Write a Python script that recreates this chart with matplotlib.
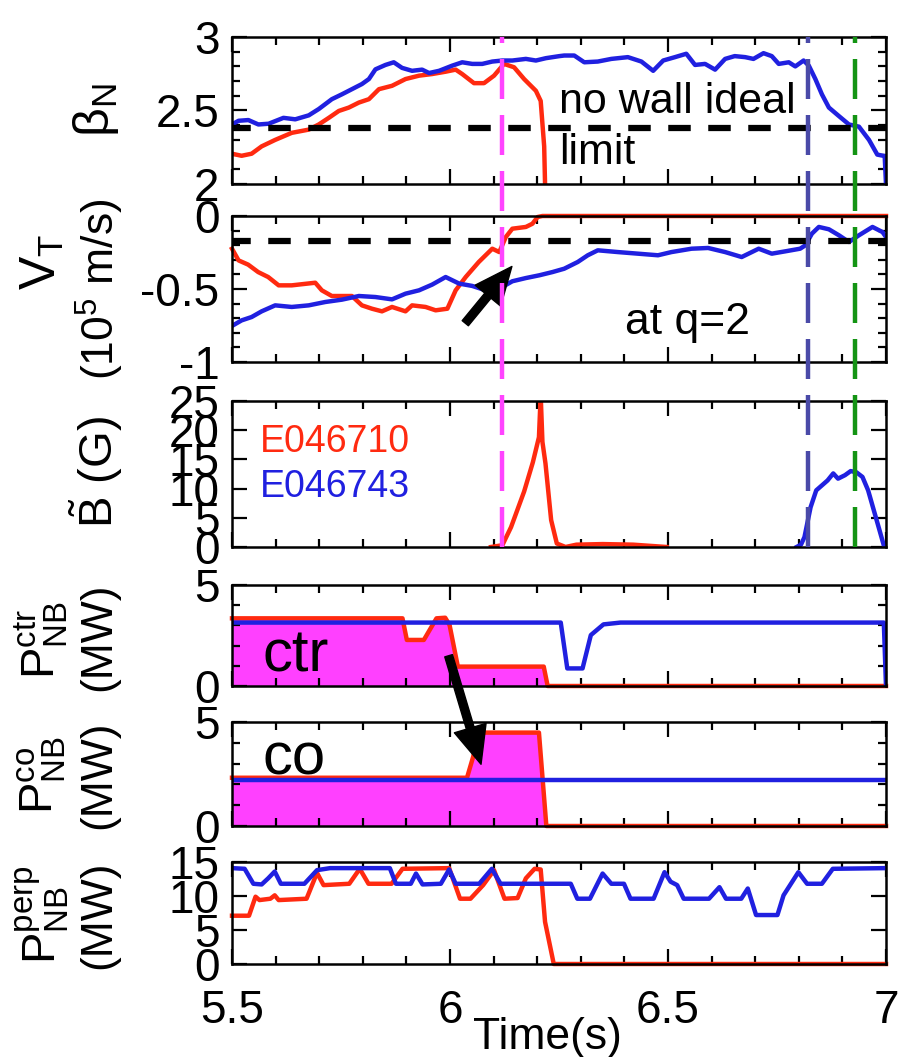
import matplotlib
matplotlib.use("Agg")
from matplotlib import pyplot as plt
from matplotlib.ticker import MultipleLocator, FixedLocator
from matplotlib.transforms import blended_transform_factory
from matplotlib.lines import Line2D

plt.rcParams["font.family"] = ["Liberation Sans", "DejaVu Sans"]
plt.rcParams["mathtext.fontset"] = "custom"
plt.rcParams["mathtext.rm"] = "Liberation Sans"
plt.rcParams["mathtext.it"] = "Liberation Sans"
plt.rcParams["mathtext.default"] = "regular"

RED = "#ff2a10"
BLUE = "#2020e0"
FILL = "#ff40ff"

# ---- beta_N ----
BETA_RED_T = [5.5, 5.522, 5.545, 5.568, 5.599, 5.637, 5.676, 5.699, 5.722, 5.745, 5.768, 5.791, 5.814,
              5.837, 5.867, 5.898, 5.929, 5.959, 5.990, 6.013, 6.028, 6.055, 6.078, 6.101, 6.124, 6.147,
              6.170, 6.197, 6.208, 6.216, 6.218]
BETA_RED_V = [2.206, 2.192, 2.206, 2.256, 2.30, 2.348, 2.37, 2.405, 2.45, 2.497, 2.52, 2.554, 2.577,
              2.645, 2.668, 2.714, 2.737, 2.748, 2.764, 2.778, 2.748, 2.686, 2.686, 2.737, 2.817, 2.794,
              2.714, 2.634, 2.565, 2.256, 2.0]
BETA_BLUE_T = [5.5, 5.515, 5.5375, 5.5605, 5.584, 5.618, 5.645, 5.676, 5.699, 5.729, 5.752, 5.775, 5.798,
               5.814, 5.829, 5.852, 5.871, 5.890, 5.913, 5.936, 5.952, 5.975, 6.005, 6.028, 6.051, 6.074,
               6.097, 6.120, 6.143, 6.174, 6.197, 6.220, 6.251, 6.262, 6.285, 6.308, 6.339, 6.370, 6.408,
               6.439, 6.466, 6.489, 6.516, 6.542, 6.562, 6.585, 6.608, 6.631, 6.653, 6.677, 6.696, 6.719,
               6.738, 6.754, 6.777, 6.792, 6.811, 6.823, 6.838, 6.853, 6.869, 6.892, 6.915, 6.938, 6.961,
               6.980, 6.997, 7.0]
BETA_BLUE_V = [2.405, 2.43, 2.435, 2.405, 2.41, 2.45, 2.44, 2.467, 2.51, 2.577, 2.61, 2.645, 2.68,
               2.714, 2.78, 2.81, 2.828, 2.79, 2.77, 2.778, 2.755, 2.77, 2.805, 2.828, 2.817, 2.817,
               2.833, 2.84, 2.84, 2.851, 2.84, 2.856, 2.87, 2.874, 2.874, 2.828, 2.833, 2.851, 2.863,
               2.833, 2.77, 2.84, 2.863, 2.886, 2.81, 2.817, 2.778, 2.851, 2.87, 2.863, 2.851, 2.89,
               2.87, 2.817, 2.828, 2.80, 2.84, 2.805, 2.714, 2.61, 2.52, 2.462, 2.405, 2.39, 2.30,
               2.20, 2.19, 2.0]
BETA_LIMIT = 2.38

# ---- toroidal rotation at q=2 ----
VT_RED_T = [5.5, 5.515, 5.537, 5.560, 5.583, 5.607, 5.637, 5.691, 5.706, 5.729, 5.775, 5.798, 5.821,
            5.844, 5.867, 5.898, 5.913, 5.944, 5.967, 5.994, 6.013, 6.036, 6.066, 6.097, 6.113, 6.128,
            6.143, 6.174, 6.189, 6.201, 6.212, 7.0]
VT_RED_V = [-0.224, -0.304, -0.333, -0.384, -0.418, -0.475, -0.475, -0.457, -0.509, -0.548, -0.548,
            -0.612, -0.635, -0.653, -0.623, -0.653, -0.612, -0.623, -0.646, -0.635, -0.509, -0.418,
            -0.315, -0.224, -0.247, -0.144, -0.087, -0.075, -0.053, -0.007, 0.0, 0.0]
VT_BLUE_T = [5.5, 5.522, 5.545, 5.568, 5.599, 5.637, 5.676, 5.714, 5.752, 5.791, 5.829, 5.867, 5.898,
             5.929, 5.959, 5.990, 6.021, 6.051, 6.082, 6.113, 6.143, 6.174, 6.205, 6.235, 6.262, 6.293,
             6.316, 6.339, 6.385, 6.431, 6.477, 6.508, 6.554, 6.592, 6.631, 6.669, 6.708, 6.738, 6.769,
             6.803, 6.815, 6.830, 6.846, 6.869, 6.892, 6.915, 6.938, 6.969, 6.992, 7.0]
VT_BLUE_V = [-0.753, -0.715, -0.692, -0.653, -0.612, -0.623, -0.612, -0.589, -0.573, -0.548, -0.555,
             -0.571, -0.532, -0.509, -0.47, -0.418, -0.463, -0.479, -0.509, -0.498, -0.447, -0.425,
             -0.406, -0.384, -0.361, -0.315, -0.269, -0.235, -0.247, -0.258, -0.269, -0.247, -0.224,
             -0.219, -0.247, -0.281, -0.224, -0.258, -0.242, -0.224, -0.201, -0.121, -0.075, -0.091,
             -0.132, -0.178, -0.132, -0.075, -0.11, -0.144]
VT_REF = -0.17

# ---- mode amplitude ----
B_RED_T = [6.094, 6.12, 6.14, 6.17, 6.19, 6.204, 6.208, 6.212, 6.219, 6.232, 6.245, 6.265, 6.29, 6.35,
           6.42, 6.497]
B_RED_V = [0.0, 0.3, 3.4, 9.5, 14.5, 18.8, 26.0, 18.0, 14.3, 4.6, 0.6, 0.0, 0.4, 0.5, 0.4, 0.0]
B_BLUE_T = [6.795, 6.805, 6.813, 6.827, 6.84, 6.866, 6.879, 6.89, 6.906, 6.919, 6.932, 6.946, 6.959,
            6.972, 6.985, 6.996]
B_BLUE_V = [0.0, 0.4, 1.7, 6.8, 9.7, 11.4, 12.6, 11.7, 12.3, 13.0, 12.8, 12.0, 9.7, 6.3, 2.9, 0.0]

# ---- counter NBI ----
CTR_RED_T = [5.5, 5.891, 5.901, 5.94, 5.969, 5.989, 5.999, 6.018, 6.215, 6.224, 7.0]
CTR_RED_V = [3.35, 3.35, 2.28, 2.28, 3.35, 3.38, 3.02, 0.96, 0.96, 0.0, 0.0]
CTR_BLUE_T = [5.5, 6.254, 6.269, 6.304, 6.323, 6.352, 6.391, 6.995, 7.0]
CTR_BLUE_V = [3.14, 3.14, 0.87, 0.87, 2.52, 3.05, 3.14, 3.14, 0.0]

# ---- co NBI ----
CO_RED_T = [5.5, 6.039, 6.053, 6.066, 6.204, 6.221, 7.0]
CO_RED_V = [2.32, 2.32, 3.32, 4.49, 4.49, 0.0, 0.0]
CO_BLUE_T = [5.5, 7.0]
CO_BLUE_V = [2.2, 2.2]

# ---- perpendicular NBI ----
PERP_RED_T = [5.5, 5.539, 5.554, 5.563, 5.588, 5.598, 5.607, 5.671, 5.695, 5.710, 5.769, 5.793, 5.813,
              5.866, 5.891, 5.998, 6.023, 6.047, 6.076, 6.101, 6.125, 6.155, 6.174, 6.194, 6.208, 6.218,
              6.238, 7.0]
PERP_RED_V = [7.1, 7.1, 9.9, 9.4, 9.6, 10.1, 9.4, 9.6, 13.4, 11.6, 11.8, 14.0, 11.8, 11.8, 14.0, 14.1,
              9.6, 9.6, 11.6, 13.8, 9.6, 9.7, 12.6, 14.0, 13.9, 6.2, 0.0, 0.0]
PERP_BLUE_T = [5.5, 5.529, 5.549, 5.568, 5.583, 5.598, 5.612, 5.666, 5.695, 5.725, 5.862, 5.876, 5.910,
               5.922, 5.937, 5.979, 5.998, 6.013, 6.067, 6.096, 6.116, 6.277, 6.292, 6.321, 6.350, 6.370,
               6.399, 6.414, 6.467, 6.492, 6.506, 6.521, 6.536, 6.594, 6.618, 6.633, 6.668, 6.683, 6.702,
               6.751, 6.765, 6.799, 6.819, 6.853, 6.878, 7.0]
PERP_BLUE_V = [14.1, 14.0, 11.8, 11.7, 12.6, 13.6, 11.8, 11.8, 13.8, 14.1, 14.1, 11.8, 11.8, 13.3, 11.7,
               11.8, 13.9, 11.8, 11.8, 14.0, 11.8, 11.8, 9.6, 9.6, 13.3, 11.8, 11.8, 9.6, 9.6, 13.5, 12.1,
               11.6, 9.6, 9.6, 11.3, 9.6, 9.6, 11.1, 7.2, 7.2, 10.1, 13.5, 11.8, 11.8, 14.0, 14.1]

EVENT_TIMES = [6.12, 6.82, 6.93]
EVENT_COLORS = ["#ff44ff", "#4a4aa8", "#149414"]

W, H = 899, 1057
fig = plt.figure(figsize=(W / 100, H / 100), dpi=100)

# panel boxes in pixels (top, bottom)
LEFT, RIGHT = 232, 886
BOXES = [(37, 184), (216, 362), (401, 547), (585, 686), (722, 826), (862, 964)]
axes = []
for top, bot in BOXES:
    axes.append(fig.add_axes([LEFT / W, 1 - bot / H, (RIGHT - LEFT) / W, (bot - top) / H]))
ax1, ax2, ax3, ax4, ax5, ax6 = axes

TICK_FS = 33
ARROW = dict(arrowstyle="simple,head_length=0.8,head_width=0.7,tail_width=0.17",
             fc="k", ec="k", mutation_scale=34)


def style(ax, ylim, yticks, ylabels, yminor, bottom_labels=False):
    ax.set_xlim(5.5, 7.0)
    ax.set_ylim(*ylim)
    ax.xaxis.set_major_locator(FixedLocator([5.5, 6.0, 6.5, 7.0]))
    ax.xaxis.set_minor_locator(MultipleLocator(0.1))
    ax.set_yticks(yticks)
    ax.set_yticklabels(ylabels)
    if yminor:
        ax.yaxis.set_minor_locator(MultipleLocator(yminor))
    ax.tick_params(which="both", direction="in", top=True, right=True, width=1.6,
                   labelsize=TICK_FS, pad=9, labelbottom=bottom_labels)
    ax.tick_params(which="major", length=11)
    ax.tick_params(which="minor", length=6)
    [ax.spines[s].set_linewidth(1.8) for s in ["top", "bottom", "left", "right"]]
    if bottom_labels:
        ax.set_xticklabels(["5.5", "6", "6.5", "7"])
        ax.tick_params(axis="x", pad=18)


LW = 3.2

# panel 1
style(ax1, (2, 3), [2, 2.5, 3], ["2", "2.5", "3"], 0.1)
ax1.axhline(BETA_LIMIT, color="k", lw=4.5, ls=(0.6, (3.6, 2.8)), zorder=3)
ax1.plot(BETA_RED_T, BETA_RED_V, color=RED, lw=LW)
ax1.plot(BETA_BLUE_T, BETA_BLUE_V, color=BLUE, lw=LW)
ax1.text(6.25, 2.56, "no wall ideal", fontsize=31, va="center", ha="left")
ax1.text(6.25, 2.21, "limit", fontsize=31, va="center", ha="left")

# panel 2
style(ax2, (-1, 0), [-1, -0.5, 0], ["-1", "-0.5", "0"], 0.1)
ax2.axhline(VT_REF, color="k", lw=4.5, ls=(0.6, (3.6, 2.8)), zorder=3)
ax2.plot(VT_RED_T, VT_RED_V, color=RED, lw=LW, clip_on=False)
ax2.plot(VT_BLUE_T, VT_BLUE_V, color=BLUE, lw=LW)
ax2.annotate("", xy=(6.146, -0.331), xytext=(6.031, -0.749), arrowprops=ARROW)
ax2.text(6.545, -0.73, "at q=2", fontsize=32, va="center", ha="center")

# panel 3
style(ax3, (0, 25), [0, 5, 10, 15, 20, 25], ["0", "5", "10", "15", "20", "25"], None)
ax3.plot(B_RED_T, B_RED_V, color=RED, lw=LW)
ax3.plot(B_BLUE_T, B_BLUE_V, color=BLUE, lw=LW)
ax3.text(5.564, 18.0, "E046710", color=RED, fontsize=27, va="center", ha="left")
ax3.text(5.564, 10.3, "E046743", color=BLUE, fontsize=27, va="center", ha="left")

# panel 4
style(ax4, (0, 5), [0, 5], ["0", "5"], 1)
ax4.fill_between(CTR_RED_T, CTR_RED_V, 0, color=FILL, lw=0)
ax4.plot(CTR_RED_T, CTR_RED_V, color=RED, lw=LW, clip_on=False)
ax4.plot(CTR_BLUE_T, CTR_BLUE_V, color=BLUE, lw=LW)
ax4.text(5.57, 1.5, "ctr", fontsize=43, va="center", ha="left")

# panel 5
style(ax5, (0, 5), [0, 5], ["0", "5"], 1)
ax5.fill_between(CO_RED_T, CO_RED_V, 0, color=FILL, lw=0)
ax5.plot(CO_RED_T, CO_RED_V, color=RED, lw=LW, clip_on=False)
ax5.plot(CO_BLUE_T, CO_BLUE_V, color=BLUE, lw=LW)
ax5.text(5.57, 3.2, "co", fontsize=43, va="center", ha="left")
ax5.annotate("", xy=(6.073, 2.84), xycoords="data", xytext=(5.995, 1.63), textcoords=ax4.transData,
             arrowprops=ARROW, annotation_clip=False)

# panel 6
style(ax6, (0, 15), [0, 5, 10, 15], ["0", "5", "10", "15"], None, bottom_labels=True)
ax6.plot(PERP_RED_T, PERP_RED_V, color=RED, lw=LW, clip_on=False)
ax6.plot(PERP_BLUE_T, PERP_BLUE_V, color=BLUE, lw=LW)
fig.text(547 / W, 1 - 1038 / H, "Time(s)", fontsize=32, ha="center", va="center")

# event markers spanning the top three panels
trans = blended_transform_factory(ax1.transData, fig.transFigure)
for t, c in zip(EVENT_TIMES, EVENT_COLORS):
    fig.add_artist(Line2D([t, t], [1 - 547 / H, 1 - 37 / H], transform=trans, color=c,
                          lw=3.2, ls=(0, (9, 3.6)), zorder=5))


# y labels
def ylab(x, y, s, fs=34):
    fig.text(x / W, 1 - y / H, s, rotation=90, fontsize=fs, ha="center", va="center")


ylab(96, 110, r"$\beta_N$", 36)
ylab(42, 262, r"$V_T$", 36)
ylab(100, 289, r"$(10^5$ m/s)", 32)
ylab(96, 472, r"$\tilde{B}$ (G)")
ylab(42, 640, r"$P_{NB}^{ctr}$")
ylab(99, 637, "(MW)", 32)
ylab(42, 775, r"$P_{NB}^{co}$")
ylab(99, 775, "(MW)", 32)
ylab(42, 915, r"$P_{NB}^{perp}$")
ylab(99, 915, "(MW)", 32)

fig.savefig("out.png", dpi=100)
